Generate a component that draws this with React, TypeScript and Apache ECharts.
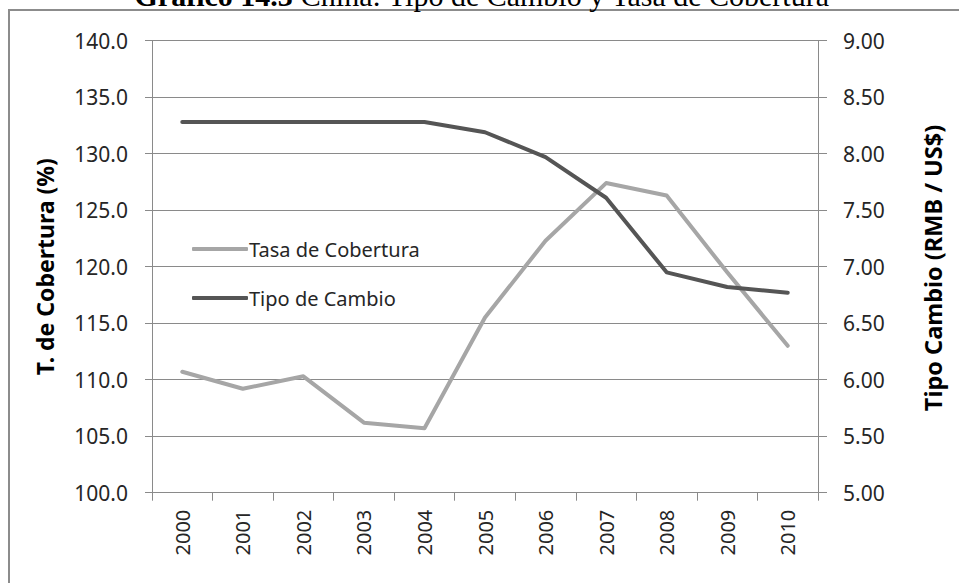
import React, { useEffect, useRef } from "react";
import * as echarts from "echarts";

const years = ["2000", "2001", "2002", "2003", "2004", "2005", "2006", "2007", "2008", "2009", "2010"];
const tasaCobertura = [110.7, 109.2, 110.3, 106.2, 105.7, 115.5, 122.3, 127.4, 126.3, 119.5, 113.0];
const tipoCambio = [8.28, 8.28, 8.28, 8.28, 8.28, 8.19, 7.97, 7.61, 6.95, 6.82, 6.77];
const leftTicks = { min: 100, max: 140, interval: 5 };
const rightTicks = { min: 5, max: 9, interval: 0.5 };

const FONT = "'Noto Sans', 'Open Sans', sans-serif";

export default function App() {
  const ref = useRef<HTMLDivElement>(null);
  useEffect(() => {
    if (!ref.current) return;
    const chart = echarts.init(ref.current, null, { renderer: "svg" });
    const gridColor = "#8a8a8a";
    chart.setOption({
      animation: false,
      backgroundColor: "#ffffff",
      textStyle: { fontFamily: FONT },
      grid: { left: 152, right: 141, top: 40.7, bottom: 90.3, containLabel: false },
      legend: {
        orient: "vertical",
        left: 192,
        top: 239,
        padding: 0,
        icon: "roundRect",
        itemWidth: 56,
        itemHeight: 4,
        itemGap: 29,
        textStyle: {
          fontFamily: FONT,
          fontSize: 20,
          lineHeight: 20,
          color: "#262626",
          padding: [0, 0, 0, -4],
        },
        data: ["Tasa de Cobertura", "Tipo de Cambio"],
      },
      xAxis: {
        type: "category",
        data: years,
        boundaryGap: true,
        axisLine: { lineStyle: { color: gridColor, width: 1 } },
        axisTick: { show: true, length: 8, lineStyle: { color: gridColor } },
        axisLabel: { rotate: 90, margin: 17, fontSize: 20, color: "#262626", fontFamily: FONT },
      },
      yAxis: [
        {
          type: "value",
          min: leftTicks.min,
          max: leftTicks.max,
          interval: leftTicks.interval,
          axisLine: { show: true, lineStyle: { color: gridColor } },
          axisTick: { show: true, length: 7, inside: false, lineStyle: { color: gridColor } },
          splitLine: { show: true, lineStyle: { color: gridColor, width: 1 } },
          axisLabel: {
            margin: 24,
            fontSize: 21,
            color: "#262626",
            fontFamily: FONT,
            formatter: (v: number) => v.toFixed(1),
          },
        },
        {
          type: "value",
          min: rightTicks.min,
          max: rightTicks.max,
          interval: rightTicks.interval,
          position: "right",
          axisLine: { show: true, lineStyle: { color: gridColor } },
          axisTick: { show: true, length: 9, lineStyle: { color: gridColor } },
          splitLine: { show: false },
          axisLabel: {
            margin: 25,
            fontSize: 21,
            color: "#262626",
            fontFamily: FONT,
            formatter: (v: number) => v.toFixed(2),
          },
        },
      ],
      series: [
        {
          name: "Tasa de Cobertura",
          type: "line",
          yAxisIndex: 0,
          data: tasaCobertura,
          symbol: "none",
          showSymbol: false,
          itemStyle: { color: "#a6a6a6" },
          lineStyle: { color: "#a6a6a6", width: 4, cap: "round", join: "round" },
          z: 3,
        },
        {
          name: "Tipo de Cambio",
          type: "line",
          yAxisIndex: 1,
          data: tipoCambio,
          symbol: "none",
          showSymbol: false,
          itemStyle: { color: "#555555" },
          lineStyle: { color: "#555555", width: 4, cap: "round", join: "round" },
          z: 4,
        },
      ],
      graphic: [
        {
          type: "rect",
          z: -10,
          silent: true,
          shape: { x: 9, y: 10, width: 1000, height: 1000 },
          style: { fill: "none", stroke: "#8c8c8c", lineWidth: 2 },
        },
        {
          type: "text",
          x: 482,
          y: -5,
          style: {
            text: "{b|Gráfico 14.3} China: Tipo de Cambio y Tasa de Cobertura",
            font: "30px 'Liberation Serif', serif",
            fill: "#000",
            textAlign: "center",
            textVerticalAlign: "middle",
            rich: {
              b: { fontWeight: "bold", fontSize: 30, fontFamily: "'Liberation Serif', serif" },
            },
          },
        },
        {
          type: "text",
          x: 45,
          y: 266.7,
          rotation: Math.PI / 2,
          style: {
            text: "T. de Cobertura (%)",
            font: "bold 23px " + FONT,
            fill: "#000",
            textAlign: "center",
            textVerticalAlign: "middle",
          },
        },
        {
          type: "text",
          x: 933,
          y: 268,
          rotation: Math.PI / 2,
          style: {
            text: "Tipo Cambio (RMB / US$)",
            font: "bold 23.5px " + FONT,
            fill: "#000",
            textAlign: "center",
            textVerticalAlign: "middle",
          },
        },
      ],
    });
    return () => chart.dispose();
  }, []);
  return (
    <div
      ref={ref}
      style={{ position: "fixed", left: 0, top: 0, width: 959, height: 583 }}
    />
  );
}
